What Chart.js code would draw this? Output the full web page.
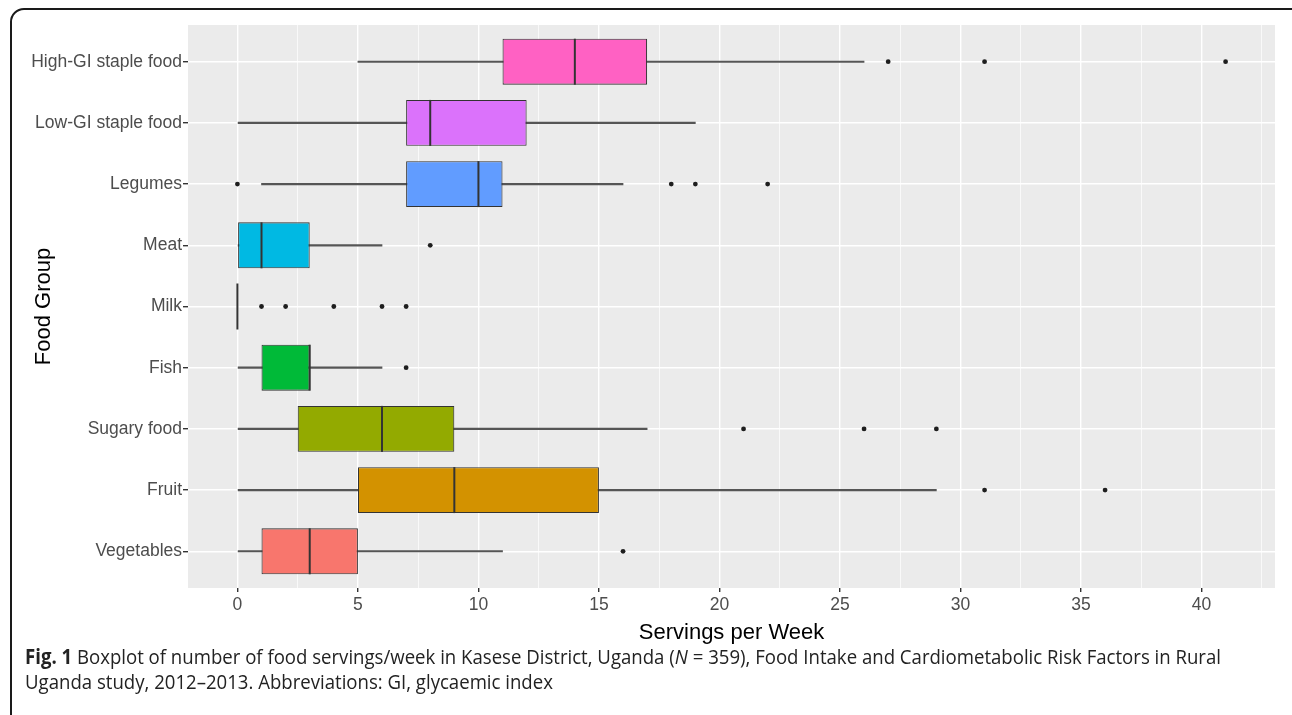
<!DOCTYPE html>
<html>
<head>
<meta charset="utf-8">
<script src="https://cdn.jsdelivr.net/npm/chart.js@4.4.1/dist/chart.umd.min.js"></script>
<style>
  html, body { margin: 0; padding: 0; background: #fff; }
  #wrap { position: relative; width: 1292px; height: 715px; overflow: hidden; }
  #frame {
    position: absolute; left: 10px; top: 8px; width: 1300px; height: 720px;
    border: 2px solid #1a1a1a; border-radius: 14px; box-sizing: border-box;
  }
  #c { position: absolute; left: 0; top: 0; }
  #caption {
    position: absolute; left: 25px; top: 644px;
    font-family: "Open Sans", sans-serif; font-size: 20.5px; line-height: 25px;
    color: #222; white-space: nowrap;
  }
  #caption .ln { display: block; transform-origin: 0 50%; width: max-content; }
  #caption b { font-weight: 700; }
</style>
</head>
<body>
<div id="wrap">
  <div id="frame"></div>
  <canvas id="c" width="1292" height="715"></canvas>
  <div id="caption">
    <span class="ln" id="cap1"><b>Fig. 1</b> Boxplot of number of food servings/week in Kasese District, Uganda (<i>N</i> = 359), Food Intake and Cardiometabolic Risk Factors in Rural</span>
    <span class="ln" id="cap2">Uganda study, 2012–2013. Abbreviations: GI, glycaemic index</span>
  </div>
</div>
<script>
// Food groups, top to bottom
const categories = [
  'High-GI staple food', 'Low-GI staple food', 'Legumes', 'Meat', 'Milk',
  'Fish', 'Sugary food', 'Fruit', 'Vegetables'
];
// Five-number summaries (servings per week)
const whiskerLow  = [5, 0, 1, 0, 0, 0, 0, 0, 0];
const quartile1   = [11, 7, 7, 0, 0, 1, 2.5, 5, 1];
const medians     = [14, 8, 10, 1, 0, 3, 6, 9, 3];
const quartile3   = [17, 12, 11, 3, 0, 3, 9, 15, 5];
const whiskerHigh = [26, 19, 16, 6, 0, 6, 17, 29, 11];
// Values beyond the whiskers
const outliers = [
  [27, 31, 41], [], [0, 18, 19, 22], [8], [1, 2, 4, 6, 7],
  [7], [21, 26, 29], [31, 36], [16]
];
const fillColors = ['#FF61C3', '#DB72FB', '#619CFF', '#00B9E3', '#00C19F',
                    '#00BA38', '#93AA00', '#D39200', '#F8766D'];
// Axis ticks
const xMajorTicks = [0, 5, 10, 15, 20, 25, 30, 35, 40];
const xMinorTicks = [2.5, 7.5, 12.5, 17.5, 22.5, 27.5, 32.5, 37.5, 42.5];
const xMin = -2.05, xMax = 43.05;

const idx = categories.map((_, i) => i);

const panelBg = {
  id: 'panelBg',
  beforeDraw(chart) {
    const {ctx, chartArea: a} = chart;
    ctx.save();
    ctx.fillStyle = '#EBEBEB';
    ctx.fillRect(a.left, a.top, a.right - a.left, a.bottom - a.top);
    ctx.restore();
  }
};

new Chart(document.getElementById('c'), {
  type: 'bar',
  data: {
    datasets: [
      {
        label: 'whiskers',
        indexAxis: 'y', grouped: false, order: 3,
        data: idx.map(i => ({y: i, x: [whiskerLow[i], whiskerHigh[i]]})),
        backgroundColor: '#555555', barThickness: 1.5, borderWidth: 0
      },
      {
        label: 'boxes',
        indexAxis: 'y', grouped: false, order: 2,
        data: idx.map(i => ({y: i, x: [quartile1[i], quartile3[i]]})),
        backgroundColor: fillColors, borderColor: '#333333', borderWidth: 1.1,
        borderSkipped: false, categoryPercentage: 1, barPercentage: 0.75
      },
      {
        label: 'medians', type: 'scatter', order: 1,
        data: idx.map(i => ({x: medians[i], y: i})),
        pointStyle: 'line', rotation: 90, radius: 23, hoverRadius: 23,
        borderColor: '#333333', borderWidth: 2
      },
      {
        label: 'outliers', type: 'scatter', order: 0,
        data: outliers.flatMap((vals, i) => vals.map(v => ({x: v, y: i}))),
        pointStyle: 'circle', radius: 2.4, hoverRadius: 2.4,
        backgroundColor: '#1e1e1e', borderWidth: 0
      }
    ]
  },
  options: {
    responsive: false, animation: false, events: [],
    layout: { autoPadding: false, padding: { left: 0, top: 25, right: 17, bottom: 62 } },
    plugins: { legend: { display: false }, tooltip: { enabled: false } },
    scales: {
      x: {
        type: 'linear', min: xMin, max: xMax, offset: false,
        afterBuildTicks(s) {
          s.ticks = xMajorTicks.concat(xMinorTicks).sort((a, b) => a - b).map(v => ({value: v}));
        },
        afterFit(s) { s.height = 65; s.paddingLeft = 0; s.paddingRight = 0; },
        border: { display: false },
        grid: {
          offset: false,
          color: '#FFFFFF',
          lineWidth: c => (c.tick && xMajorTicks.includes(c.tick.value)) ? 1.4 : 0.7,
          tickColor: c => (c.tick && xMajorTicks.includes(c.tick.value)) ? '#333333' : 'rgba(0,0,0,0)',
          tickLength: 4, drawTicks: true
        },
        ticks: {
          autoSkip: false, maxRotation: 0, padding: 3,
          color: '#4D4D4D', font: { family: 'Liberation Sans', size: 17.5 },
          callback: v => xMajorTicks.includes(v) ? String(v) : ''
        },
        title: {
          display: true, text: 'Servings per Week', color: '#000',
          font: { family: 'Liberation Sans', size: 22 }, padding: { top: 0, bottom: 7 }
        }
      },
      y: {
        type: 'linear', min: -0.6, max: 8.6, reverse: true, offset: false,
        afterBuildTicks(s) { s.ticks = idx.map(v => ({value: v})); },
        afterFit(s) { s.width = 188; s.paddingTop = 0; s.paddingBottom = 0; },
        border: { display: false },
        grid: { offset: false, color: '#FFFFFF', lineWidth: 1.4, tickColor: '#333333', tickLength: 5 },
        ticks: {
          autoSkip: false, padding: 1,
          color: '#4D4D4D', font: { family: 'Liberation Sans', size: 17.5 },
          callback: v => categories[v]
        },
        title: {
          display: true, text: 'Food Group', color: '#000',
          font: { family: 'Liberation Sans', size: 22 }, padding: { top: 31, bottom: 0 }
        }
      }
    }
  },
  plugins: [panelBg]
});

// Fit the caption's first line to the figure width (condensed look)
(function () {
  const l1 = document.getElementById('cap1'), l2 = document.getElementById('cap2');
  const k = 1196 / l1.getBoundingClientRect().width;
  l1.style.transform = 'scaleX(' + k + ')';
  l2.style.transform = 'scaleX(' + k + ')';
})();
</script>
</body>
</html>
